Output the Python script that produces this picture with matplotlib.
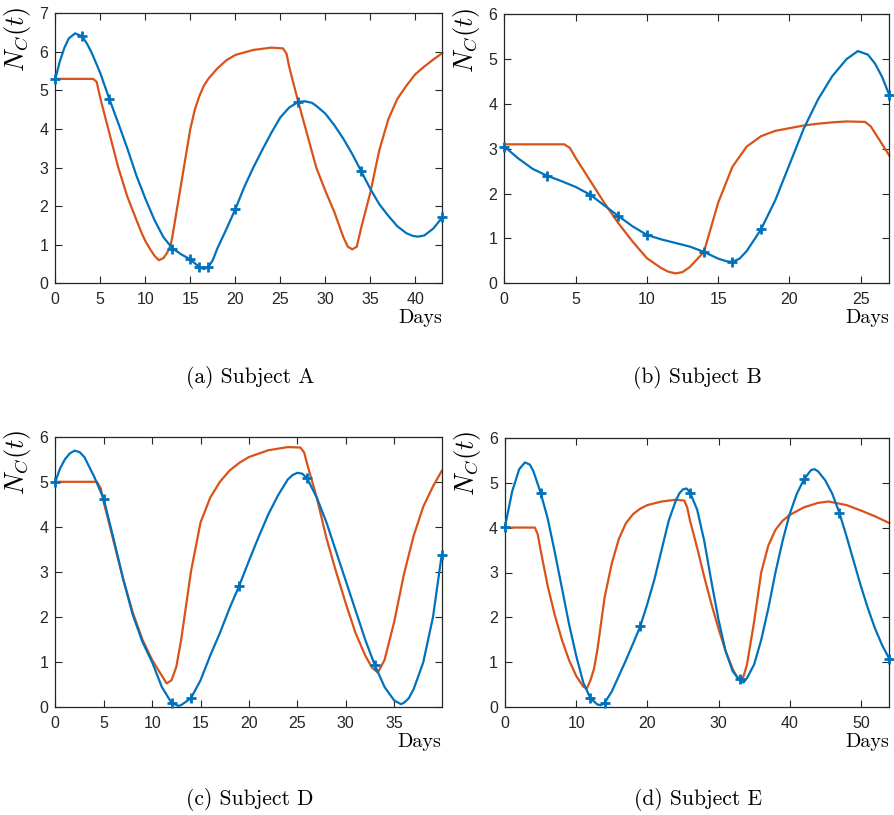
import matplotlib
matplotlib.use('Agg')
import matplotlib.pyplot as plt

plt.rcParams['mathtext.fontset'] = 'cm'
plt.rcParams['axes.unicode_minus'] = False

BLUE = '#0072BD'
ORANGE = '#D95319'

# Subject A
a_obs_t = [0, 3, 6, 13, 15, 16, 17, 20, 27, 34, 43]
a_obs_y = [5.3, 6.4, 4.78, 0.9, 0.62, 0.42, 0.42, 1.92, 4.7, 2.9, 1.71]
a_fit_t = [0, 0.5, 1, 1.5, 2.2, 3, 3.5, 4, 5, 6, 7, 8, 9, 10, 11, 12, 13, 14, 15, 16, 16.5, 17, 17.5, 18,
           19, 20, 21, 22, 23, 24, 25, 26, 27, 27.7, 28.5, 29, 30, 31, 32, 33, 34, 35, 36, 37, 38, 39,
           39.7, 40.3, 41, 42, 43]
a_fit_y = [5.3, 5.75, 6.1, 6.35, 6.48, 6.4, 6.22, 6.0, 5.45, 4.78, 4.15, 3.5, 2.8, 2.2, 1.65, 1.2, 0.91,
           0.75, 0.62, 0.42, 0.37, 0.42, 0.6, 0.9, 1.4, 1.92, 2.5, 3.0, 3.46, 3.9, 4.3, 4.56, 4.7, 4.72,
           4.68, 4.6, 4.4, 4.1, 3.75, 3.35, 2.9, 2.45, 2.05, 1.75, 1.48, 1.3, 1.23, 1.21, 1.24, 1.42, 1.71]
a_mod_t = [0, 4.2, 4.6, 5, 6, 7, 8, 9, 9.6, 10, 10.5, 11, 11.5, 12, 12.4, 12.8, 13, 14, 15, 15.5, 16, 16.5,
           17, 18, 19, 20, 22, 24, 25.3, 25.7, 26, 27, 28, 29, 30, 31, 32, 32.5, 33, 33.5, 34, 35, 36,
           37, 38, 39, 40, 41, 42, 43]
a_mod_y = [5.3, 5.3, 5.22, 4.8, 3.9, 3.0, 2.25, 1.65, 1.3, 1.1, 0.9, 0.72, 0.6, 0.65, 0.78, 0.98, 1.2,
           2.6, 4.0, 4.5, 4.85, 5.12, 5.3, 5.57, 5.78, 5.92, 6.05, 6.11, 6.09, 5.95, 5.6, 4.7, 3.85, 3.0,
           2.4, 1.85, 1.2, 0.95, 0.88, 0.95, 1.45, 2.35, 3.45, 4.25, 4.78, 5.12, 5.42, 5.62, 5.8, 5.97]

# Subject B
b_obs_t = [0, 3, 6, 8, 10, 14, 16, 18, 27]
b_obs_y = [3.05, 2.4, 1.98, 1.5, 1.08, 0.7, 0.48, 1.2, 4.2]
b_fit_t = [0, 1, 2, 3, 4, 5, 6, 7, 8, 9, 10, 11, 12, 13, 14, 15, 15.6, 16, 16.5, 17, 18, 19, 20, 21, 22,
           23, 24, 24.8, 25.5, 26, 26.5, 27]
b_fit_y = [3.05, 2.78, 2.55, 2.4, 2.28, 2.15, 1.98, 1.74, 1.5, 1.27, 1.08, 0.98, 0.9, 0.82, 0.7, 0.55,
           0.49, 0.48, 0.55, 0.72, 1.2, 1.85, 2.65, 3.45, 4.1, 4.62, 5.0, 5.18, 5.1, 4.9, 4.6, 4.2]
b_mod_t = [0, 4.2, 4.6, 5, 6, 7, 8, 9, 10, 11, 11.5, 12, 12.5, 13, 14, 15, 16, 17, 18, 19, 20, 21, 22,
           23, 24, 25.3, 25.7, 26, 27]
b_mod_y = [3.1, 3.1, 3.02, 2.8, 2.3, 1.8, 1.34, 0.93, 0.56, 0.34, 0.26, 0.22, 0.25, 0.36, 0.7, 1.8, 2.6,
           3.05, 3.28, 3.4, 3.46, 3.52, 3.56, 3.59, 3.61, 3.6, 3.5, 3.35, 2.85]

# Subject D
d_obs_t = [0, 5, 12, 14, 19, 26, 33, 39.9]
d_obs_y = [5.0, 4.62, 0.1, 0.2, 2.7, 5.08, 0.93, 3.38]
d_fit_t = [0, 0.5, 1, 1.5, 2, 2.5, 3, 4, 5, 6, 7, 8, 9, 10, 11, 12, 12.7, 13, 14, 15, 16, 17, 18, 19, 20,
           21, 22, 23, 24, 24.5, 25, 25.5, 26, 27, 28, 29, 30, 31, 32, 33, 34, 35, 35.7, 36, 36.5, 37,
           38, 39, 39.9]
d_fit_y = [5.0, 5.3, 5.5, 5.63, 5.69, 5.66, 5.55, 5.12, 4.62, 3.75, 2.85, 2.05, 1.45, 1.0, 0.45, 0.1,
           0.03, 0.05, 0.2, 0.6, 1.15, 1.65, 2.2, 2.7, 3.25, 3.78, 4.28, 4.7, 5.05, 5.15, 5.2, 5.18, 5.08,
           4.65, 4.1, 3.45, 2.8, 2.15, 1.5, 0.93, 0.45, 0.15, 0.07, 0.1, 0.2, 0.4, 1.0, 2.0, 3.38]
d_mod_t = [0, 4.3, 4.7, 5, 6, 7, 8, 9, 10, 11, 11.5, 12, 12.5, 13, 14, 15, 16, 17, 18, 19, 20, 22, 24,
           25.3, 25.7, 26, 27, 28, 29, 30, 31, 32, 32.7, 33.3, 34, 35, 36, 37, 38, 39, 39.9]
d_mod_y = [5.0, 5.0, 4.85, 4.55, 3.7, 2.85, 2.1, 1.5, 1.05, 0.7, 0.53, 0.6, 0.9, 1.5, 3.0, 4.1, 4.65,
           5.0, 5.25, 5.42, 5.55, 5.7, 5.77, 5.76, 5.65, 5.4, 4.65, 3.75, 3.0, 2.3, 1.65, 1.15, 0.88,
           0.77, 1.05, 1.9, 2.95, 3.8, 4.45, 4.9, 5.24]

# Subject E
e_obs_t = [0, 5, 12, 14, 19, 26, 33, 42, 47, 54]
e_obs_y = [4.02, 4.78, 0.2, 0.1, 1.8, 4.78, 0.62, 5.07, 4.32, 1.08]
e_fit_t = [0, 1, 2, 2.8, 3.5, 4, 5, 6, 7, 8, 9, 10, 11, 12, 13, 13.5, 14, 15, 16, 17, 18, 19, 20, 21, 22,
           23, 24, 24.5, 25, 25.5, 26, 27, 28, 29, 30, 31, 32, 33, 33.5, 34, 35, 36, 37, 38, 39, 40, 41,
           42, 43, 43.5, 44, 45, 46, 47, 48, 49, 50, 51, 52, 53, 54]
e_fit_y = [4.02, 4.8, 5.3, 5.45, 5.4, 5.25, 4.78, 4.2, 3.45, 2.65, 1.85, 1.15, 0.55, 0.2, 0.06, 0.05,
           0.1, 0.35, 0.7, 1.05, 1.42, 1.8, 2.3, 2.85, 3.5, 4.15, 4.6, 4.76, 4.85, 4.87, 4.78, 4.4, 3.7,
           2.8, 1.95, 1.25, 0.8, 0.6, 0.55, 0.65, 0.95, 1.5, 2.2, 3.0, 3.7, 4.3, 4.75, 5.07, 5.28, 5.3,
           5.25, 5.05, 4.75, 4.32, 3.8, 3.25, 2.7, 2.2, 1.75, 1.38, 1.08]
e_mod_t = [0, 4.2, 4.6, 5, 6, 7, 8, 9, 10, 11, 11.5, 12, 12.5, 13, 14, 15, 16, 17, 18, 19, 20, 22, 24,
           25.2, 25.6, 26, 27, 28, 29, 30, 31, 32, 32.5, 33, 33.5, 34, 35, 36, 37, 38, 39, 40, 42, 44,
           45.5, 48, 50, 52, 54]
e_mod_y = [4.0, 4.0, 3.85, 3.5, 2.7, 2.05, 1.5, 1.05, 0.7, 0.46, 0.42, 0.6, 0.85, 1.3, 2.45, 3.2, 3.75,
           4.1, 4.3, 4.42, 4.5, 4.58, 4.62, 4.6, 4.45, 4.15, 3.55, 2.9, 2.3, 1.75, 1.25, 0.85, 0.7, 0.62,
           0.68, 0.95, 1.9, 3.0, 3.6, 3.95, 4.15, 4.28, 4.45, 4.55, 4.58, 4.5, 4.38, 4.25, 4.1]

panels = [
    ('(a) Subject A', a_obs_t, a_obs_y, a_fit_t, a_fit_y, a_mod_t, a_mod_y, 43, 7, range(0, 41, 5)),
    ('(b) Subject B', b_obs_t, b_obs_y, b_fit_t, b_fit_y, b_mod_t, b_mod_y, 27, 6, range(0, 26, 5)),
    ('(c) Subject D', d_obs_t, d_obs_y, d_fit_t, d_fit_y, d_mod_t, d_mod_y, 39.9, 6, range(0, 36, 5)),
    ('(d) Subject E', e_obs_t, e_obs_y, e_fit_t, e_fit_y, e_mod_t, e_mod_y, 54, 6, range(0, 51, 10)),
]

# axes boxes in pixels (left, top, right, bottom) of the 894x815 figure
boxes = [(55.3, 13.3, 442.3, 283.3), (504.3, 14.3, 889.3, 283.3),
         (55.3, 436.7, 441.7, 707.3), (505, 437.7, 889.3, 707.3)]
captions_y = [378, 378, 800, 800]

W, H = 894, 815
fig = plt.figure(figsize=(W / 100, H / 100), dpi=100)

for (cap, ot, oy, ft, fy, mt, my, xmax, ymax, xt), (l, t, r, b), cy in zip(panels, boxes, captions_y):
    ax = fig.add_axes([l / W, 1 - b / H, (r - l) / W, (b - t) / H])
    ax.plot(mt, my, color=ORANGE, lw=1.6, clip_on=False, zorder=2)
    ax.plot(ft, fy, color=BLUE, lw=1.6, clip_on=False, zorder=3)
    ax.plot(ot, oy, '+', color=BLUE, ms=7, mew=2, clip_on=False, zorder=4)
    ax.set_xlim(0, xmax)
    ax.set_ylim(0, ymax)
    ax.set_xticks(list(xt))
    ax.set_yticks(range(0, ymax + 1))
    ax.tick_params(direction='in', top=True, right=True, length=5, width=0.8,
                   labelsize=11.5, colors='#262626')
    ax.tick_params(axis='x', pad=6)
    ax.tick_params(axis='y', pad=5)
    for lab in ax.get_xticklabels() + ax.get_yticklabels():
        lab.set_fontfamily('Liberation Sans')
    for s in ax.spines.values():
        s.set_linewidth(0.9)
        s.set_color('#262626')
    ax.set_ylabel(r'$N_C(t)$', fontsize=19, labelpad=0)
    ax.yaxis.set_label_coords(-0.057, 0.905)
    ax.text(1.0, -0.147, 'Days', transform=ax.transAxes, ha='right', va='baseline',
            fontsize=14.5, fontfamily='cmr10')
    fig.text(((l + r) / 2 + 1) / W, 1 - (cy + 5) / H, cap, ha='center', va='baseline',
             fontsize=15.5, fontfamily='cmr10')

fig.savefig('out.png', dpi=100)
